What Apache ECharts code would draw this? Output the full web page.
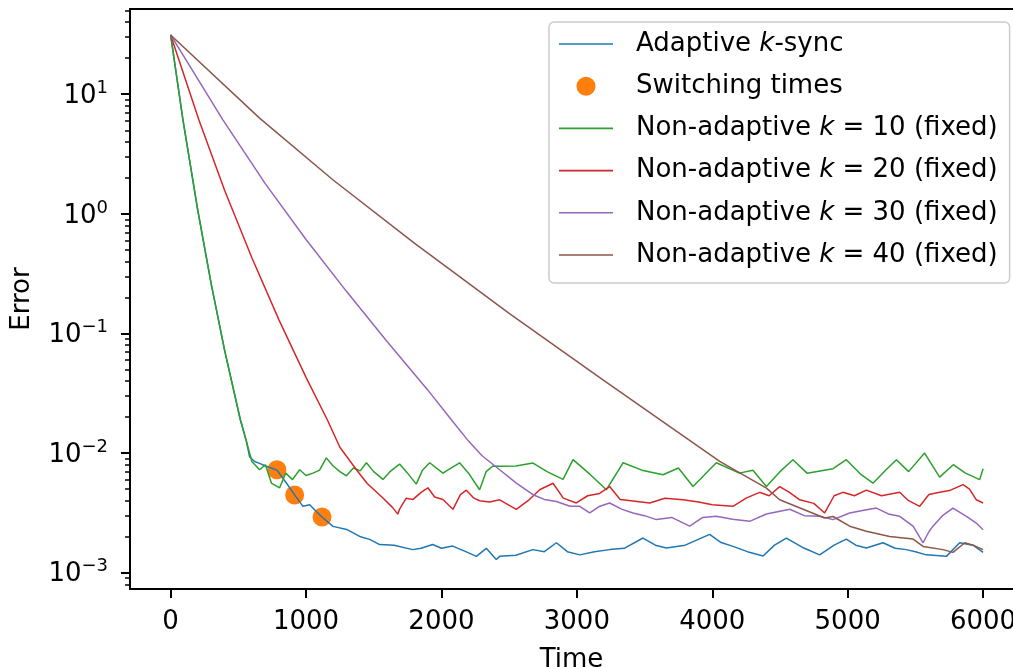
<!DOCTYPE html>
<html>
<head>
<meta charset="utf-8">
<script src="https://cdn.jsdelivr.net/npm/echarts@6/dist/echarts.min.js"></script>
<style>
html,body{margin:0;padding:0;background:#fff;}
#chart{width:1013px;height:667px;}
</style>
</head>
<body>
<div id="chart"></div>
<script>
// ---- data ----
const xTickValues = [0, 1000, 2000, 3000, 4000, 5000, 6000];
const yTickValues = [0.001, 0.01, 0.1, 1, 10];
const yMinorTickValues = [0.0008, 0.0009,
  0.002, 0.003, 0.004, 0.005, 0.006, 0.007, 0.008, 0.009,
  0.02, 0.03, 0.04, 0.05, 0.06, 0.07, 0.08, 0.09,
  0.2, 0.3, 0.4, 0.5, 0.6, 0.7, 0.8, 0.9,
  2, 3, 4, 5, 6, 7, 8, 9,
  20, 30, 40, 50];

const seriesNames = ['Adaptive k-sync', 'Switching times',
  'Non-adaptive k = 10 (fixed)', 'Non-adaptive k = 20 (fixed)',
  'Non-adaptive k = 30 (fixed)', 'Non-adaptive k = 40 (fixed)'];

const adaptiveT = [0, 91, 200, 300, 400, 515, 560, 583, 620, 657, 700, 785, 855, 916, 977, 1027, 1070, 1118,
  1199, 1300, 1396, 1470, 1544, 1650, 1787, 1850, 1935, 2000, 2083, 2180, 2258, 2331, 2405, 2430, 2550,
  2675, 2760, 2849, 2930, 3021, 3130, 3242, 3350, 3488, 3580, 3661, 3800, 3981, 4060, 4153, 4260, 4375,
  4460, 4547, 4680, 4793, 4900, 4990, 5060, 5138, 5261, 5350, 5433, 5500, 5581, 5729, 5827, 5926, 6000];
const adaptiveV = [31.3, 6.10, 1.08, 0.259, 0.0713, 0.0190, 0.0125, 0.00933, 0.0085, 0.0082, 0.0078, 0.0072, 0.00562, 0.00447, 0.00359, 0.0037, 0.0033, 0.00292,
  0.00244, 0.0023, 0.00201, 0.0019, 0.00172, 0.0017, 0.00156, 0.0016, 0.00172, 0.0016, 0.00167, 0.0015, 0.00137, 0.0016, 0.00129, 0.00137, 0.0014,
  0.00156, 0.0015, 0.00178, 0.0015, 0.00141, 0.0015, 0.00156, 0.0016, 0.00195, 0.0017, 0.00161, 0.0017, 0.00209, 0.0018, 0.00166, 0.0015, 0.00138,
  0.0017, 0.00195, 0.0016, 0.00141, 0.0017, 0.00191, 0.0017, 0.00161, 0.00178, 0.0016, 0.00156, 0.0015, 0.00141, 0.00137, 0.00178, 0.0017, 0.00148];

const switchT = [785, 916, 1118];
const switchV = [0.00726, 0.00447, 0.00292];

const k10T = [0, 91, 200, 300, 400, 515, 560, 600, 657, 700, 744, 805, 850, 900, 953, 1000, 1051, 1100, 1150, 1200,
  1250, 1298, 1350, 1400, 1446, 1500, 1568, 1620, 1691, 1750, 1814, 1860, 1913, 2011, 2070, 2134, 2200, 2282, 2330,
  2380, 2430, 2550, 2676, 2780, 2898, 2972, 3100, 3218, 3341, 3480, 3637, 3750, 3858, 4030, 4200, 4300, 4400, 4500,
  4596, 4700, 4892, 4990, 5100, 5187, 5280, 5360, 5450, 5568, 5679, 5780, 5870, 5975, 6000];
const k10V = [31.3, 6.10, 1.08, 0.259, 0.0713, 0.0190, 0.0125, 0.0085, 0.00726, 0.0080, 0.00562, 0.00513, 0.0068, 0.0060, 0.00726, 0.0065, 0.0068, 0.0072, 0.00912, 0.0078,
  0.0070, 0.00646, 0.0075, 0.0071, 0.0083, 0.0070, 0.00603, 0.0070, 0.0081, 0.0068, 0.0055, 0.0072, 0.0083, 0.0068, 0.0075, 0.0083, 0.0068, 0.00494, 0.0070,
  0.0078, 0.00776, 0.0078, 0.00826, 0.0070, 0.00603, 0.00881, 0.0066, 0.00494, 0.0083, 0.0072, 0.0066, 0.0075, 0.00525, 0.0083, 0.0068, 0.0072, 0.00525, 0.0070,
  0.00881, 0.0068, 0.0074, 0.0088, 0.0066, 0.0056, 0.0072, 0.0088, 0.0070, 0.0100, 0.0063, 0.0080, 0.0068, 0.0060, 0.0074];

const k20T = [0, 209, 400, 600, 800, 1000, 1157, 1250, 1371, 1450, 1566, 1640, 1677, 1691, 1740, 1790, 1850, 1900, 1950,
  2011, 2085, 2140, 2184, 2240, 2282, 2356, 2430, 2553, 2640, 2725, 2824, 2900, 2996, 3080, 3168, 3242, 3320, 3400,
  3538, 3650, 3784, 3900, 4000, 4153, 4250, 4350, 4420, 4498, 4570, 4646, 4750, 4830, 4900, 4965, 5050, 5138, 5250,
  5384, 5450, 5532, 5600, 5679, 5760, 5852, 5900, 5950, 6000];
const k20V = [31.3, 6.10, 1.56, 0.430, 0.130, 0.0430, 0.0190, 0.0112, 0.0073, 0.0056, 0.00424, 0.0035, 0.00309, 0.0034, 0.0042, 0.0041, 0.0047, 0.00513, 0.0043,
  0.0041, 0.00339, 0.0045, 0.0049, 0.0042, 0.0040, 0.0039, 0.00407, 0.00339, 0.0040, 0.00494, 0.0056, 0.0042, 0.00383, 0.0044, 0.0046, 0.00525, 0.0041, 0.0040,
  0.00383, 0.0042, 0.00407, 0.0039, 0.0037, 0.00359, 0.0042, 0.0047, 0.0044, 0.00525, 0.0047, 0.00407, 0.0038, 0.00316, 0.0044, 0.0047, 0.0044, 0.0049, 0.0044,
  0.0047, 0.0040, 0.00359, 0.0045, 0.0047, 0.0049, 0.00545, 0.0050, 0.00407, 0.00383];

const k30T = [0, 386, 700, 1000, 1300, 1600, 1900, 2073, 2200, 2300, 2430, 2553, 2676, 2760, 2849, 2950, 3021, 3095,
  3170, 3242, 3330, 3414, 3500, 3587, 3700, 3833, 3930, 4030, 4150, 4276, 4400, 4572, 4680, 4793, 4892, 5015, 5100,
  5212, 5300, 5384, 5483, 5557, 5600, 5630, 5700, 5778, 5877, 5950, 6000];
const k30V = [31.3, 6.10, 1.78, 0.611, 0.224, 0.0853, 0.0336, 0.0190, 0.0126, 0.0095, 0.00726, 0.00562, 0.00449, 0.0041, 0.00394, 0.0036, 0.00359, 0.00316,
  0.0036, 0.00383, 0.0034, 0.00316, 0.0030, 0.00278, 0.0029, 0.00245, 0.0029, 0.00296, 0.0028, 0.00269, 0.0031, 0.00339, 0.0030, 0.00296, 0.00278, 0.00316, 0.0033,
  0.00347, 0.0031, 0.00296, 0.00245, 0.00178, 0.0022, 0.00245, 0.0030, 0.00347, 0.00296, 0.0026, 0.00229];

const k40T = [0, 657, 1200, 1800, 2500, 3193, 3600, 4055, 4400, 4498, 4830, 4892, 5015, 5138, 5310, 5483, 5557,
  5704, 5778, 5865, 5926, 6000];
const k40V = [31.3, 6.31, 1.92, 0.570, 0.147, 0.0410, 0.0195, 0.00853, 0.00509, 0.00407, 0.00287, 0.00295, 0.00245, 0.00222, 0.00201, 0.00191, 0.00166,
  0.00156, 0.00148, 0.00178, 0.0017, 0.00156];

const colors = ['#1f77b4', '#ff7f0e', '#2ca02c', '#d62728', '#9467bd', '#8c564b'];

// ---- chart ----
const zip = (t, v) => t.map((x, i) => [x, v[i]]);
const FONT = 'DejaVu Sans';
const FS = 26;
const X_MIN = -300, X_MAX = 6221;   // right spine (6300) lies beyond the picture edge
const Y_MIN = 7.31e-4, Y_MAX = 51.6;
const chart = echarts.init(document.getElementById('chart'), null, {renderer: 'canvas'});

function lineSeries(name, t, v, color) {
  return {
    name, type: 'line', data: zip(t, v), showSymbol: false, symbol: 'none',
    lineStyle: {color, width: 1.5}, itemStyle: {color}, animation: false, clip: true
  };
}

function legendFormatter(name) {
  if (name === seriesNames[0]) return '{sp|}{n|Adaptive }{i|k}{n|-sync}';
  if (name === seriesNames[1]) return '{sp|}{n|Switching times}';
  const m = name.match(/k = (\d+) \(fixed\)/);
  return '{sp|}{n|Non-adaptive }{i|k}{n| = ' + m[1] + ' (fixed)}';
}

const supLabel = v => {
  const e = Math.round(Math.log10(v));
  return '{b|10}{s|' + (e < 0 ? '\u2212' + (-e) : String(e)) + '}';
};

const LINE_ICON = 'path://M0,0 L100,0 L100,3 L0,3 Z';
const legendData = seriesNames.map((n, i) => i === 1 ? {name: n, icon: 'circle'} : {name: n, icon: LINE_ICON});

const option = {
  animation: false,
  backgroundColor: '#ffffff',
  grid: {left: 130, top: 9, right: 0, bottom: 78, show: false, outerBoundsMode: 'none', containLabel: false},
  legend: {
    orient: 'vertical', left: 549, top: 22,
    padding: [7, 12, 13, 10],
    backgroundColor: 'rgba(255,255,255,0.8)', borderColor: '#cccccc', borderWidth: 1.5, borderRadius: 5,
    itemWidth: 54, itemHeight: 19, itemGap: 12.2,
    data: legendData,
    formatter: legendFormatter,
    textStyle: {
      fontFamily: FONT, fontSize: FS, color: '#000', lineHeight: 30,
      rich: {
        sp: {width: 18},
        n: {fontFamily: FONT, fontSize: FS, color: '#000', lineHeight: 30},
        i: {fontFamily: FONT, fontSize: FS, color: '#000', fontStyle: 'italic', lineHeight: 30}
      }
    }
  },
  xAxis: [{
    type: 'value', min: X_MIN, max: X_MAX, position: 'bottom',
    name: 'Time', nameLocation: 'middle', nameGap: 58,
    nameTextStyle: {fontFamily: FONT, fontSize: FS, color: '#000'},
    axisLine: {show: true, onZero: false, lineStyle: {color: '#000', width: 2}},
    axisTick: {show: true, customValues: xTickValues, length: 9, lineStyle: {color: '#000', width: 2}},
    axisLabel: {show: true, customValues: xTickValues, margin: 20, fontFamily: FONT, fontSize: FS, color: '#000',
      formatter: v => String(v)},
    splitLine: {show: false}
  }, {
    type: 'value', min: X_MIN, max: X_MAX, position: 'top',
    axisLine: {show: true, onZero: false, lineStyle: {color: '#000', width: 2}},
    axisTick: {show: false}, axisLabel: {show: false}, splitLine: {show: false}
  }],
  yAxis: [{
    type: 'log', min: Y_MIN, max: Y_MAX, position: 'left', offset: 0,
    name: 'Error', nameLocation: 'middle', nameGap: 95, nameRotate: 90,
    nameTextStyle: {fontFamily: FONT, fontSize: FS, color: '#000'},
    axisLine: {show: true, onZero: false, lineStyle: {color: '#000', width: 2}},
    axisTick: {show: true, customValues: yTickValues, length: 9, lineStyle: {color: '#000', width: 2}},
    axisLabel: {
      show: true, customValues: yTickValues, margin: 22, align: 'right', formatter: supLabel,
      rich: {
        b: {fontFamily: FONT, fontSize: FS, color: '#000', lineHeight: 30, verticalAlign: 'bottom'},
        s: {fontFamily: FONT, fontSize: 18, color: '#000', lineHeight: 30, verticalAlign: 'top'}
      }
    },
    splitLine: {show: false}
  }, {
    type: 'log', min: Y_MIN, max: Y_MAX, position: 'left', offset: 0,
    axisLine: {show: false, onZero: false},
    axisTick: {show: true, customValues: yMinorTickValues, length: 5, lineStyle: {color: '#000', width: 1.5}},
    axisLabel: {show: false},
    splitLine: {show: false}
  }],
  series: [
    lineSeries(seriesNames[0], adaptiveT, adaptiveV, colors[0]),
    {
      name: seriesNames[1], type: 'scatter', data: zip(switchT, switchV), symbol: 'circle', symbolSize: 19,
      itemStyle: {color: colors[1], opacity: 1}, animation: false
    },
    lineSeries(seriesNames[2], k10T, k10V, colors[2]),
    lineSeries(seriesNames[3], k20T, k20V, colors[3]),
    lineSeries(seriesNames[4], k30T, k30V, colors[4]),
    lineSeries(seriesNames[5], k40T, k40V, colors[5])
  ]
};
chart.setOption(option);
</script>
</body>
</html>
